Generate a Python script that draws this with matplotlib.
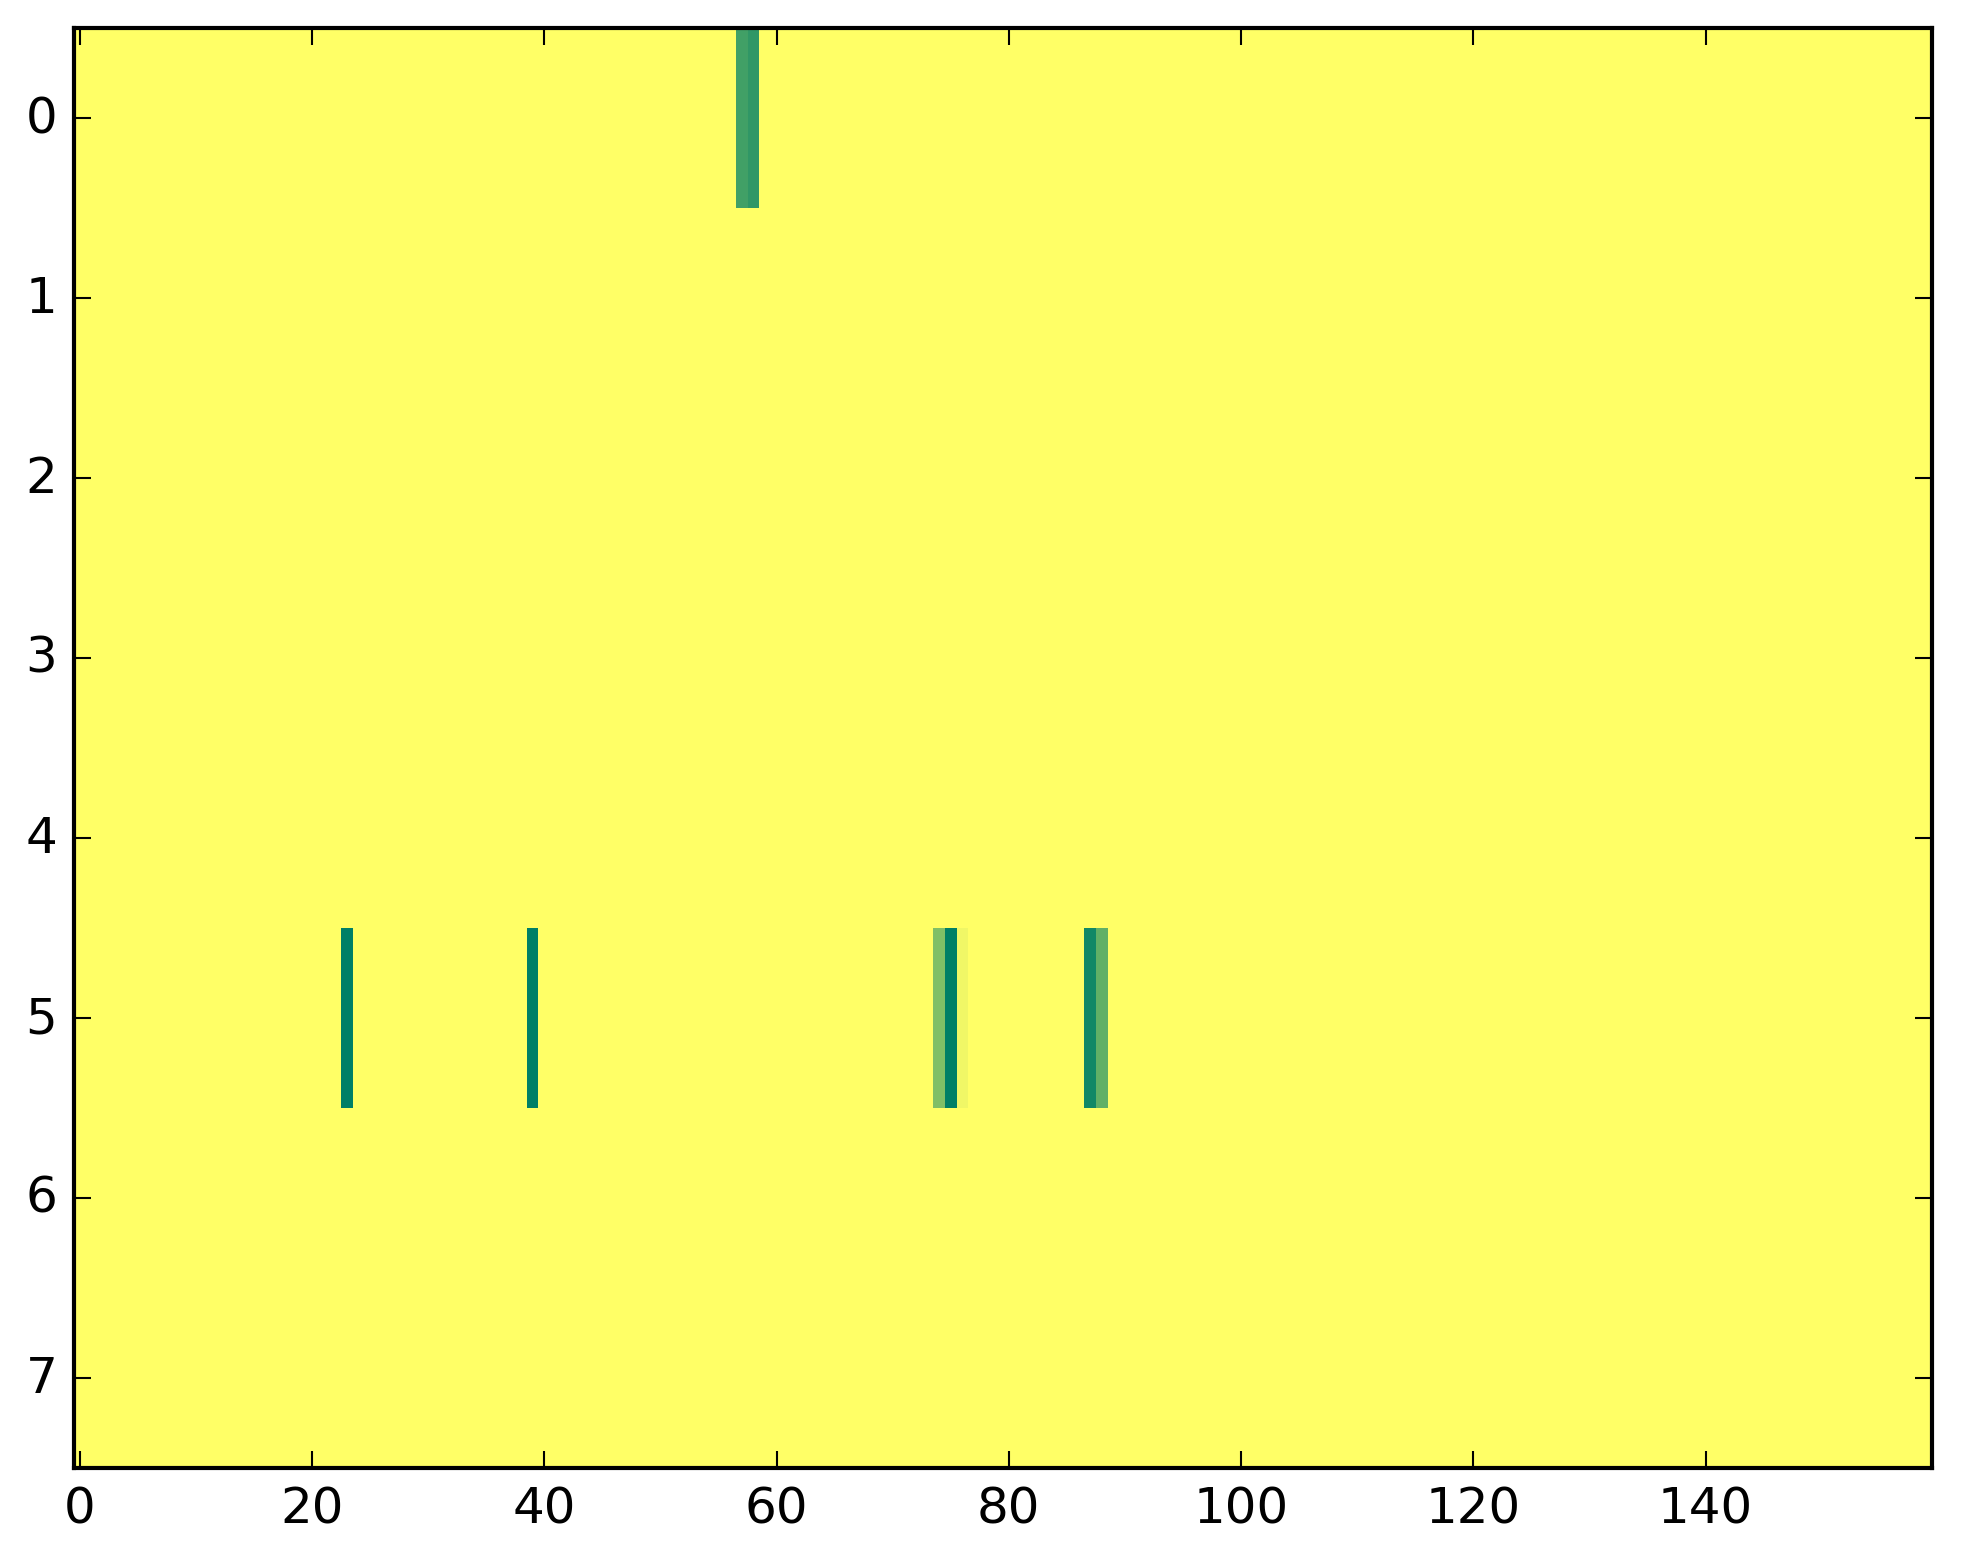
import numpy as np
import matplotlib
matplotlib.use("Agg")
from matplotlib import pyplot as plt

plt.style.use('classic')

n_rows = 8
n_cols = 160
background = 1.0

# sparse cells that differ from the background (row, column, value)
cell_rows = [0, 0, 5, 5, 5, 5, 5, 5, 5]
cell_cols = [57, 58, 23, 39, 74, 75, 76, 87, 88]
cell_vals = [0.26, 0.19, 0.0, 0.0, 0.5, 0.0, 0.94, 0.07, 0.38]

grid = np.full((n_rows, n_cols), background)
for r, c, v in zip(cell_rows, cell_cols, cell_vals):
    grid[r, c] = v

fig = plt.figure(figsize=(1963 / 300, 1564 / 300), dpi=300, facecolor='white')
ax = fig.add_axes([74 / 1963, 1 - 1469 / 1564, (1932 - 74) / 1963, (1469 - 29) / 1564])
ax.imshow(grid, cmap='summer', vmin=0, vmax=1, aspect='auto', interpolation='nearest')
ax.set_xticks(np.arange(0, 160, 20))
ax.set_yticks(np.arange(0, 8))
ax.set_xlim(-0.5, 159.5)
ax.set_ylim(7.5, -0.5)

fig.savefig('out.png', dpi=300, facecolor='white')
